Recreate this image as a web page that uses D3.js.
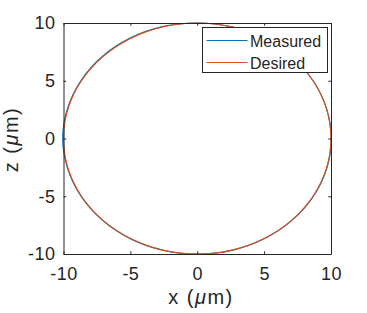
<!DOCTYPE html>
<html>
<head>
<meta charset="utf-8">
<script src="https://cdn.jsdelivr.net/npm/d3@7"></script>
<style>
  body { margin: 0; background: #fff; }
  text { font-family: "Liberation Sans", Arial, Helvetica, sans-serif; fill: #262626; }
</style>
</head>
<body>
<div id="chart"></div>
<script>
// Desired trajectory (um), every 15 degrees
const xDesired = [10, 9.66, 8.66, 7.07, 5, 2.59, 0, -2.59, -5, -7.07, -8.66, -9.66,
                  -10, -9.66, -8.66, -7.07, -5, -2.59, 0, 2.59, 5, 7.07, 8.66, 9.66];
const zDesired = [0, 2.59, 5, 7.07, 8.66, 9.66, 10, 9.66, 8.66, 7.07, 5, 2.59,
                  0, -2.59, -5, -7.07, -8.66, -9.66, -10, -9.66, -8.66, -7.07, -5, -2.59];

// Measured trajectory (um), sits almost on top of the desired one
const xMeasured = [10.02, 9.67, 8.66, 7.07, 4.99, 2.58, -0.02, -2.6, -5.02, -7.1, -8.69, -9.7,
                   -10.06, -9.69, -8.68, -7.08, -5.01, -2.59, 0.01, 2.6, 5.01, 7.08, 8.68, 9.68];
const zMeasured = [0.01, 2.59, 5, 7.07, 8.66, 9.66, 10, 9.68, 8.69, 7.1, 5.02, 2.6,
                   0, -2.6, -5.01, -7.08, -8.67, -9.67, -10.01, -9.68, -8.68, -7.09, -5.01, -2.6];

const ticks = [-10, -5, 0, 5, 10];
const seriesNames = ['Measured', 'Desired'];
const seriesColors = ['#0072BD', '#D95319'];

const width = 367;
const height = 313;
const plot = { left: 63.5, right: 331, top: 23, bottom: 254 };
const axisColor = '#262626';

const svg = d3.select('#chart')
  .append('svg')
  .attr('width', width)
  .attr('height', height);

const xScale = d3.scaleLinear().domain([-10, 10]).range([plot.left, plot.right]);
const yScale = d3.scaleLinear().domain([-10, 10]).range([plot.bottom, plot.top]);

// curves
const line = d3.line()
  .x(d => xScale(d[0]))
  .y(d => yScale(d[1]))
  .curve(d3.curveCardinalClosed.tension(0));

const series = [
  d3.zip(xMeasured, zMeasured),
  d3.zip(xDesired, zDesired)
];

svg.append('g')
  .selectAll('path')
  .data(series)
  .enter()
  .append('path')
  .attr('d', line)
  .attr('fill', 'none')
  .attr('stroke', (d, i) => seriesColors[i])
  .attr('stroke-width', 1.2);

// axes, ticks pointing inward and mirrored on top/right
const tickLen = 2.7;
const fmt = d => String(d);
const styleAxis = sel => {
  sel.select('.domain').attr('stroke', axisColor);
  sel.selectAll('.tick line').attr('stroke', axisColor);
  sel.selectAll('.tick text')
    .style('font-size', '18px')
    .style('fill', axisColor)
    .attr('letter-spacing', '0.5px');
};

svg.append('g')
  .attr('transform', `translate(0,${plot.bottom})`)
  .call(d3.axisBottom(xScale).tickValues(ticks).tickFormat(fmt).tickSizeInner(-tickLen).tickSizeOuter(0).tickPadding(13))
  .call(styleAxis);

svg.append('g')
  .attr('transform', `translate(${plot.left},0)`)
  .call(d3.axisLeft(yScale).tickValues(ticks).tickFormat(fmt).tickSizeInner(-tickLen).tickSizeOuter(0).tickPadding(8))
  .call(styleAxis);

svg.append('g')
  .attr('transform', `translate(0,${plot.top})`)
  .call(d3.axisTop(xScale).tickValues(ticks).tickSizeInner(-tickLen).tickSizeOuter(0).tickFormat(''))
  .call(styleAxis);

svg.append('g')
  .attr('transform', `translate(${plot.right},0)`)
  .call(d3.axisRight(yScale).tickValues(ticks).tickSizeInner(-tickLen).tickSizeOuter(0).tickFormat(''))
  .call(styleAxis);

svg.selectAll('.domain').attr('stroke-width', 1);

// axis labels, mu in italic like the TeX interpreter
const axisLabel = (sel, name) => {
  sel.append('tspan').text(name + ' (');
  sel.append('tspan').style('font-style', 'italic').text('\u03bc');
  sel.append('tspan').text('m)');
};

svg.append('text')
  .attr('x', 201)
  .attr('y', 304)
  .attr('text-anchor', 'middle')
  .style('font-size', '20px')
  .attr('letter-spacing', '1.5px')
  .call(axisLabel, 'x');

svg.append('text')
  .attr('transform', `translate(18,${(plot.top + plot.bottom) / 2 + 1}) rotate(-90)`)
  .attr('text-anchor', 'middle')
  .style('font-size', '20px')
  .attr('letter-spacing', '1.5px')
  .call(axisLabel, 'z');

// legend
const legend = svg.append('g').attr('transform', 'translate(202.5,27.5)');

legend.append('rect')
  .attr('width', 125)
  .attr('height', 45)
  .attr('fill', '#fff')
  .attr('stroke', axisColor)
  .attr('stroke-width', 1);

const legendItems = legend.selectAll('.item')
  .data(seriesNames)
  .enter()
  .append('g')
  .attr('class', 'item')
  .attr('transform', (d, i) => `translate(0,${13 + i * 22})`);

legendItems.append('line')
  .attr('x1', 4)
  .attr('x2', 45)
  .attr('stroke', (d, i) => seriesColors[i])
  .attr('stroke-width', 1.2);

legendItems.append('text')
  .attr('x', 47.5)
  .attr('y', 6)
  .style('font-size', '16px')
  .text(d => d);
</script>
</body>
</html>
